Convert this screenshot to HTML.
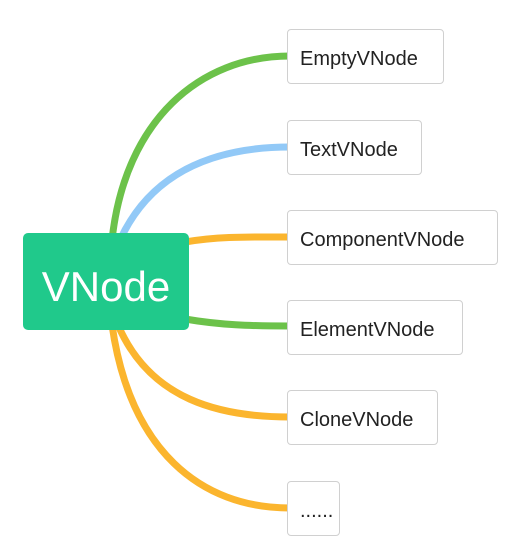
<!DOCTYPE html>
<html><head><style>
body{margin:0;width:515px;height:541px;background:#fff;position:relative;overflow:hidden;font-family:"Liberation Sans","DejaVu Sans",sans-serif}
.n{position:absolute;left:287px;height:55px;border:1px solid #d0d0d0;border-radius:4px;background:#fff;box-sizing:border-box;font-size:20px;color:#222;line-height:58px;padding-left:12px}
</style></head><body>
<svg width="515" height="541" style="position:absolute;left:0;top:0" fill="none" stroke-width="7" stroke-linecap="round">
<path d="M112 240 C125 120,200 56,290 56" stroke="#6cc24a"/>
<path d="M120 240 C150 175,210 147,290 147" stroke="#92c9f7"/>
<path d="M185 242 C220 236,250 237,290 237" stroke="#fbb52e"/>
<path d="M185 319 C220 325,250 326,290 326" stroke="#6cc24a"/>
<path d="M118 325 C150 400,220 417,290 417" stroke="#fbb52e"/>
<path d="M112 325 C130 450,200 508,290 508" stroke="#fbb52e"/>
</svg>
<div style="position:absolute;left:23px;top:233px;width:166px;height:97px;background:#20c98b;border-radius:5px;color:#fff;font-size:42px;line-height:107px;text-align:center">VNode</div>
<div class="n" style="top:29px;width:157px">EmptyVNode</div>
<div class="n" style="top:120px;width:135px">TextVNode</div>
<div class="n" style="top:210px;width:211px">ComponentVNode</div>
<div class="n" style="top:300px;width:176px">ElementVNode</div>
<div class="n" style="top:390px;width:151px">CloneVNode</div>
<div class="n" style="top:481px;width:53px">......</div>
</body></html>
